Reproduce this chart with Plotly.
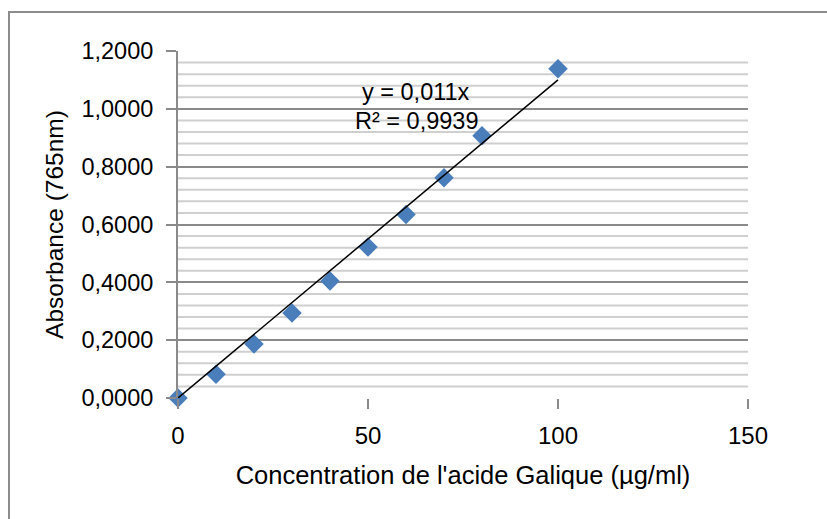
import numpy as np
import plotly.graph_objects as go

concentration = [0, 10, 20, 30, 40, 50, 60, 70, 80, 100]
absorbance = [0.0, 0.082, 0.187, 0.294, 0.405, 0.522, 0.635, 0.762, 0.907, 1.139]
x_ticks = [0, 50, 100, 150]
y_ticks = [0.0, 0.2, 0.4, 0.6, 0.8, 1.0, 1.2]
y_tick_labels = ["0,0000", "0,2000", "0,4000", "0,6000", "0,8000", "1,0000", "1,2000"]
eq_text = "y = 0,011x"
r2_text = "R² = 0,9939"
slope = 0.011

fit_x = [min(concentration), max(concentration)]
fit_y = [slope * v for v in fit_x]

FONT = "Liberation Sans, Arial, sans-serif"
L, R, T, B = 178, 748, 51, 398  # plot area in pixels


def px_to_x(px):
    return (px - L) / (R - L) * 150


def px_to_y(py):
    return (B - py) / (B - T) * 1.2


fig = go.Figure()
# minor gridlines every 0.04
for k in range(31):
    v = round(k * 0.04, 4)
    if abs(v / 0.2 - round(v / 0.2)) < 1e-6:
        continue
    fig.add_shape(type="line", xref="x", yref="y", x0=0, x1=150, y0=v, y1=v,
                  line=dict(color="#cfcfcf", width=2), layer="below")

fig.add_trace(go.Scatter(x=concentration, y=absorbance, mode="markers", cliponaxis=False,
                         marker=dict(symbol="diamond", size=15, color="#4a7ebb"),
                         showlegend=False))
fig.add_trace(go.Scatter(x=fit_x, y=fit_y, mode="lines", cliponaxis=False,
                         line=dict(color="black", width=1.5), showlegend=False, hoverinfo="skip"))

fig.add_annotation(x=px_to_x(416), y=px_to_y(92), xref="x", yref="y",
                   text=eq_text, showarrow=False, font=dict(family=FONT, size=23.5, color="black"))
fig.add_annotation(x=px_to_x(416), y=px_to_y(121), xref="x", yref="y",
                   text=r2_text, showarrow=False, font=dict(family=FONT, size=23.5, color="black"))

# outer chart border
fig.add_shape(type="rect", xref="paper", yref="paper",
              x0=(9 - L) / (R - L), x1=(830 - L) / (R - L),
              y0=(B - 530) / (B - T), y1=(B - 12) / (B - T),
              line=dict(color="#8c8c8c", width=2))

fig.update_layout(
    width=827, height=519,
    margin=dict(l=L, r=827 - R, t=T, b=519 - B),
    paper_bgcolor="white", plot_bgcolor="white",
    font=dict(family=FONT, size=23.5, color="black"),
    xaxis=dict(range=[0, 150], tickvals=x_ticks, ticktext=[str(t) for t in x_ticks],
               showgrid=False, zeroline=False, showline=False,
               ticks="outside", ticklen=10, tickwidth=2, tickcolor="#8a8a8a",
               tickfont=dict(size=24), ticklabelstandoff=6,
               title=dict(text="Concentration de l'acide Galique (µg/ml)", font=dict(size=25.5), standoff=18)),
    yaxis=dict(range=[0, 1.2], tickvals=y_ticks, ticktext=y_tick_labels,
               showgrid=True, gridcolor="#8a8a8a", gridwidth=2, zeroline=False,
               showline=True, linecolor="#8a8a8a", linewidth=2,
               ticks="outside", ticklen=10, tickwidth=2, tickcolor="#8a8a8a",
               tickfont=dict(size=23.5), ticklabelstandoff=8,
               title=dict(text="Absorbance (765nm)", font=dict(size=24.5), standoff=11)),
)
fig.write_html("out.html")
